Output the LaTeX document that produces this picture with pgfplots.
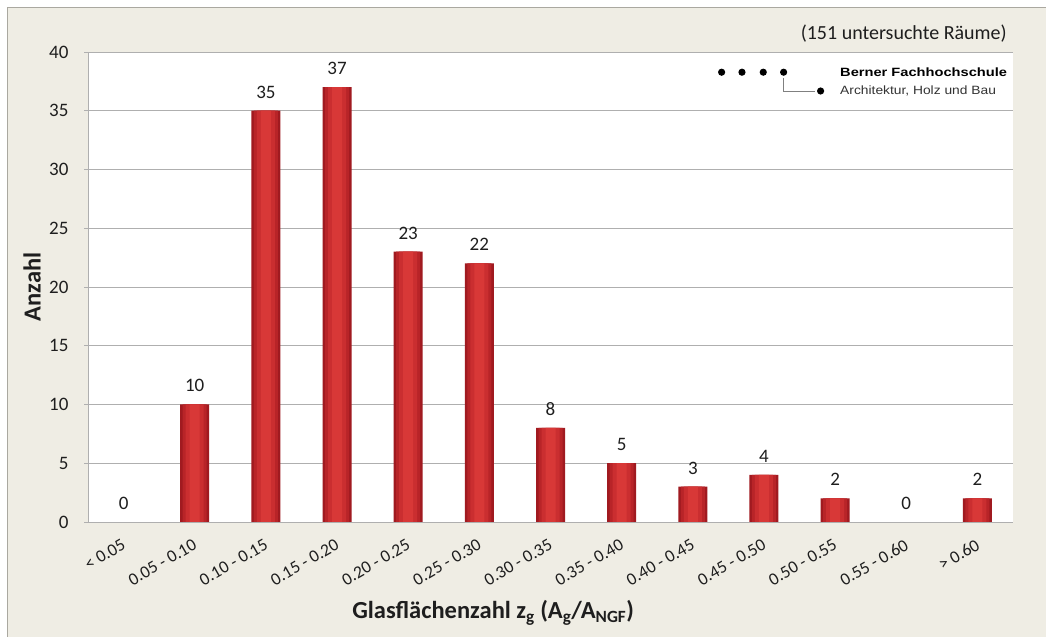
\documentclass[border=0pt]{standalone}
\usepackage{pgfplots}
\pgfplotsset{compat=1.18}
\usepackage{fontspec}
\setmainfont{Carlito}
\newfontfamily\arialfont{Liberation Sans}
\definecolor{bg}{RGB}{239,237,228}
\definecolor{frame}{RGB}{170,168,160}
\definecolor{gridc}{RGB}{175,175,175}
\definecolor{barA}{RGB}{160,26,32}
\definecolor{barB}{RGB}{184,36,40}
\definecolor{barC}{RGB}{202,46,48}
\definecolor{barD}{RGB}{216,56,55}
\definecolor{txt}{RGB}{30,30,30}
\pgfplotstableread{
x y
0 0
1 10
2 35
3 37
4 23
5 22
6 8
7 5
8 3
9 4
10 2
11 0
12 2
}\datatable
\begin{document}
\begin{tikzpicture}[x=1pt,y=1pt]
\useasboundingbox (0,0) rectangle (1046,639);
\fill[white] (0,0) rectangle (1046,639);
\fill[bg] (7,2) rectangle (1046,631);
\draw[frame, line width=1pt] (7,2) -- (7,631) -- (1046,631);
\begin{axis}[
  at={(88pt,117pt)}, anchor=south west,
  scale only axis, width=925pt, height=470pt,
  xmin=-0.5, xmax=12.5, ymin=0, ymax=40,
  axis background/.style={fill=white},
  axis x line*=bottom, axis y line*=left,
  axis line style={gridc, line width=0.8pt, -},
  ytick={0,5,...,40},
  ymajorgrids, major grid style={gridc, line width=0.6pt},
  tick align=outside, ytick style={gridc, line width=0.6pt}, major tick length=4pt,
  xtick={0,...,12},
  xtick style={draw=none},
  xticklabels={{< 0.05},{0.05 - 0.10},{0.10 - 0.15},{0.15 - 0.20},{0.20 - 0.25},{0.25 - 0.30},{0.30 - 0.35},{0.35 - 0.40},{0.40 - 0.45},{0.45 - 0.50},{0.50 - 0.55},{0.55 - 0.60},{> 0.60}},
  xticklabel style={rotate=30, anchor=north east, font=\fontsize{17.5}{19}\selectfont, text=txt, xshift=-5pt, yshift=-6pt},
  yticklabel style={font=\fontsize{19}{21}\selectfont, text=txt, xshift=-12pt},
  /pgf/number format/assume math mode=true,
  xlabel={\textbf{Glasflächenzahl z\textsubscript{g} (A\textsubscript{g}/A\textsubscript{NGF})}},
  xlabel style={at={(axis description cs:0.438,-0.194)}, anchor=center, font=\fontsize{24.5}{26}\selectfont, text=txt},
  ylabel={\textbf{Anzahl}},
  ylabel style={at={(axis description cs:-0.0605,0.50)}, anchor=center, font=\fontsize{24.5}{26}\selectfont, text=txt},
  clip=false,
]
\addplot[ybar, bar shift=0pt, bar width=29pt, fill=barA, draw=none, y filter/.expression={y==0 ? nan : y}] table[x=x,y=y] {\datatable};
\addplot[ybar, bar shift=0pt, bar width=24pt, fill=barB, draw=none, y filter/.expression={y==0 ? nan : y}] table[x=x,y=y] {\datatable};
\addplot[ybar, bar shift=0pt, bar width=18pt, fill=barC, draw=none, y filter/.expression={y==0 ? nan : y}] table[x=x,y=y] {\datatable};
\addplot[ybar, bar shift=0pt, bar width=10pt, fill=barD, draw=none, y filter/.expression={y==0 ? nan : y}] table[x=x,y=y] {\datatable};
\addplot[draw=none, mark=none, nodes near coords,
  every node near coord/.append style={anchor=south, font=\fontsize{19}{21}\selectfont, text=txt, yshift=9pt}]
  table[x=x,y=y] {\datatable};
\node[anchor=east, font=\fontsize{20}{22}\selectfont, text=txt] at (axis description cs:0.997,1.040) {(151 untersuchte Räume)};
% logo
\fill[black] (axis description cs:0.685,0.957) circle (3.6pt);
\fill[black] (axis description cs:0.707,0.957) circle (3.6pt);
\fill[black] (axis description cs:0.730,0.957) circle (3.6pt);
\fill[black] (axis description cs:0.752,0.957) circle (3.6pt);
\fill[black] (axis description cs:0.792,0.917) circle (3.6pt);
\draw[gray, line width=0.6pt] (axis description cs:0.752,0.945) |- (axis description cs:0.786,0.917);
\node[anchor=west, font=\arialfont\bfseries\fontsize{12}{13}\selectfont, inner sep=0pt] at (axis description cs:0.813,0.957) {\scalebox{1.22}[1]{Berner Fachhochschule}};
\node[anchor=west, font=\arialfont\fontsize{12}{13}\selectfont, inner sep=0pt, text=black!80] at (axis description cs:0.813,0.917) {\scalebox{1.15}[1]{Architektur, Holz und Bau}};
\end{axis}
\end{tikzpicture}
\end{document}
